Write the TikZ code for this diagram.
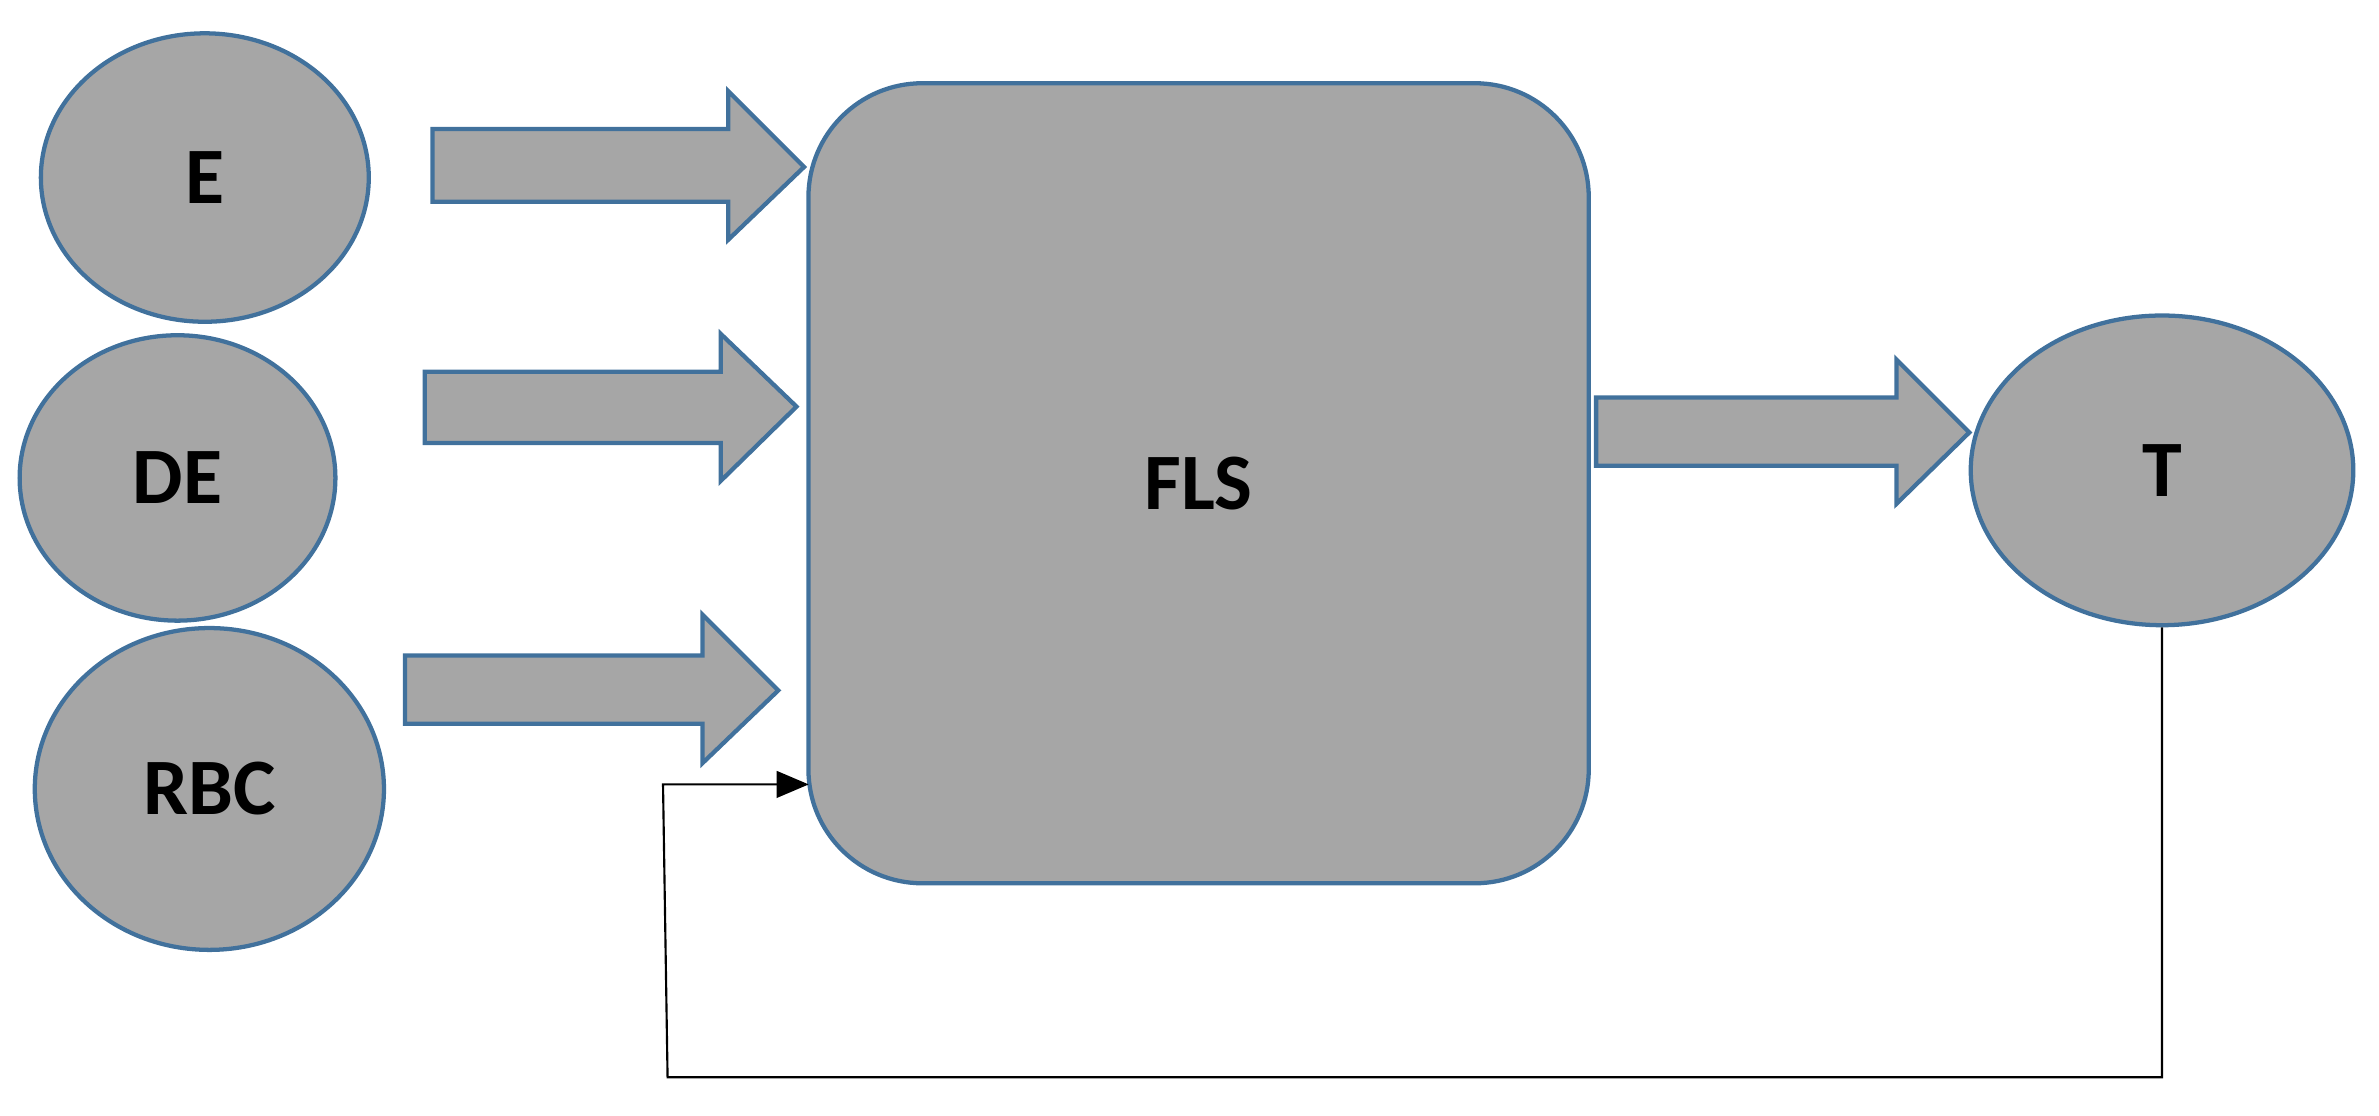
\documentclass[tikz,border=0pt]{standalone}
\usepackage{fontspec}
\setmainfont{Carlito}
\usetikzlibrary{shapes.geometric,arrows.meta}
\definecolor{fillg}{HTML}{A6A6A6}
\definecolor{edgeb}{HTML}{41719C}
\begin{document}
\begin{tikzpicture}[x=0.01cm,y=-0.01cm,
  blob/.style={ellipse,draw=edgeb,fill=fillg,line width=0.8pt,font=\bfseries\fontsize{15}{18}\selectfont,inner sep=0pt},
  fat/.style={draw=edgeb,fill=fillg,line width=0.8pt,line join=miter},
  fb/.style={draw=black,line width=0.4pt}]
\useasboundingbox (0,0) rectangle (1568,735);
\node[blob,minimum width=2.16cm,minimum height=1.90cm] (E) at (135,117) {E};
\node[blob,minimum width=2.08cm,minimum height=1.88cm] (DE) at (117,315) {DE};
\node[blob,minimum width=2.30cm,minimum height=2.12cm] (RBC) at (138,520) {RBC};
\node[draw=edgeb,fill=fillg,line width=0.8pt,rounded corners=0.75cm,minimum width=5.14cm,minimum height=5.27cm,font=\bfseries\fontsize{15}{18}\selectfont] (FLS) at (790,318.5) {FLS};
\node[blob,minimum width=2.52cm,minimum height=2.04cm] (T) at (1425,310) {T};
\draw[fat] (285,85) -- (480,85) -- (480,60) -- (530,110) -- (480,158) -- (480,133) -- (285,133) -- cycle;
\draw[fat] (280,245) -- (475,245) -- (475,220) -- (525,268) -- (475,317) -- (475,292) -- (280,292) -- cycle;
\draw[fat] (267,432) -- (463,432) -- (463,405) -- (513,455) -- (463,503) -- (463,477) -- (267,477) -- cycle;
\draw[fat] (1052,262) -- (1250,262) -- (1250,237) -- (1298,285) -- (1250,332) -- (1250,307) -- (1052,307) -- cycle;
\coordinate (c1) at (1425,710);
\coordinate (c2) at (440,710);
\coordinate (c3) at (437,517);
\draw[fb,-{Triangle[length=6pt,width=5pt]}] (T.south) -- (c1) -- (c2) -- (c3) -- (533,517);
\end{tikzpicture}
\end{document}
